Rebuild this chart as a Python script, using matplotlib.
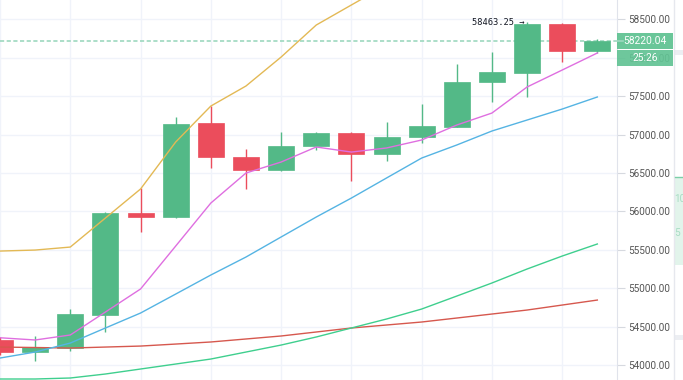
import matplotlib
matplotlib.use("Agg")
import matplotlib.pyplot as plt
from matplotlib.patches import Rectangle
from matplotlib.ticker import FormatStrFormatter

# candle data (one candle per index)
opens = [54325, 54169, 54221, 54651, 55979, 55927, 57151, 56708, 56539,
         56852, 57021, 56747, 56969, 57099, 57685, 57806, 58440, 58089]
highs = [54360, 54378, 54729, 55992, 56305, 57229, 57372, 56812, 57034,
         57040, 57034, 57164, 57398, 57919, 58076, 58463.25, 58457, 58245]
lows = [54130, 54052, 54182, 54430, 55732, 55915, 56565, 56292, 56526,
        56800, 56400, 56656, 56891, 57099, 57424, 57490, 57945, 58058]
closes = [54169, 54234, 54664, 55979, 55927, 57138, 56708, 56539, 56852,
          57021, 56747, 56969, 57112, 57685, 57815, 58440, 58089, 58220.04]

# moving average lines
ma_magenta = [54355, 54326, 54391, 54690, 54990, 55549, 56109, 56500, 56643,
              56839, 56773, 56826, 56930, 57125, 57281, 57620, 57841, 58063]
ma_blue = [54091, 54169, 54286, 54482, 54677, 54924, 55172, 55406, 55667,
           55927, 56174, 56435, 56695, 56865, 57047, 57190, 57333, 57490]
ma_gold = [55484, 55497, 55536, 55914, 56292, 56904, 57372, 57633, 58010,
           58427, 58688, 58948, 59150, 59330, 59500, 59660, 59800, 59930]
ma_red = [54234, 54228, 54221, 54234, 54247, 54273, 54300, 54339, 54378,
          54430, 54482, 54521, 54560, 54612, 54664, 54716, 54781, 54846]
ma_green = [53818, 53818, 53831, 53883, 53948, 54013, 54078, 54169, 54260,
            54365, 54482, 54599, 54729, 54898, 55068, 55250, 55419, 55576]

y_ticks = [54000, 54500, 55000, 55500, 56000, 56500, 57000, 57500, 58000, 58500]
last_price = 58220.04
peak_price = 58463.25
peak_label = "58463.25 \u2192"
countdown = "25:26"
side_labels = ["10", "5"]

UP = "#53b987"
DOWN = "#eb4d5c"
GRID = "#f0f3fa"

W, H = 683, 380
fig = plt.figure(figsize=(W / 100, H / 100), dpi=100)
ax = fig.add_axes([0, 0, 617 / W, 1])
ax.set_xlim(0.03, 17.56)
ax.set_ylim(53805, 58753)

ax.set_yticks(y_ticks)
ax.set_xticks(range(0, 18, 2))
ax.grid(color=GRID, lw=1)
ax.set_axisbelow(True)
ax.yaxis.tick_right()
ax.yaxis.set_major_formatter(FormatStrFormatter("%.2f"))
ax.tick_params(axis="x", length=0, labelbottom=False)
ax.tick_params(axis="y", length=6, color="#d6d9df", labelsize=7.2,
               labelcolor="#555555", pad=2)
for lab in ax.get_yticklabels():
    lab.set_fontfamily("Roboto")
for s in ["top", "left", "bottom"]:
    ax.spines[s].set_visible(False)
ax.spines["right"].set_color("#e0e3eb")

# candles
for i in range(len(opens)):
    o, h, l, c = opens[i], highs[i], lows[i], closes[i]
    col = UP if c >= o else DOWN
    ax.vlines(i, l, h, color=col, lw=1, zorder=2)
    ax.bar(i, abs(c - o), bottom=min(o, c), width=0.74, color=col,
           edgecolor=col, lw=0.5, zorder=3)

# moving averages
x = range(len(opens))
ax.plot(x, ma_red, color="#d6584e", lw=1, zorder=4)
ax.plot(x, ma_green, color="#3fcf8e", lw=1, zorder=4)
ax.plot(x, ma_blue, color="#55b4e3", lw=1, zorder=4)
ax.plot(x, ma_gold, color="#e3b955", lw=1, zorder=4)
ax.plot(x, ma_magenta, color="#df6fe0", lw=1, zorder=4)

# last price line
ax.axhline(last_price, color="#9dd8bf", lw=1.2, ls=(0, (2.5, 1.5)), zorder=1)

# high marker
ax.text(15 - 0.06, peak_price, peak_label, ha="right", va="center",
        fontfamily="DejaVu Sans Mono", fontsize=6.3, color="#131722", zorder=5)

# right side overlays (price box, countdown, cut panel)
ax2 = fig.add_axes([617 / W, 0, 66 / W, 1])
ax2.set_xlim(0, 66)
ax2.set_ylim(ax.get_ylim())
ax2.axis("off")
ytop = ax.get_ylim()[1]
upp = (ax.get_ylim()[1] - ax.get_ylim()[0]) / H  # price units per pixel

ax2.plot([0, 6], [last_price, last_price], color="#9dd8bf", lw=1.2)
ax2.add_patch(Rectangle((0, last_price - 8 * upp), 56, 16 * upp,
                        fc="#62c394", ec="none", alpha=0.95))
ax2.text(28, last_price, f"{last_price:.2f}", ha="center", va="center",
         color="white", fontsize=7.4, fontfamily="Roboto")
ax2.add_patch(Rectangle((0, last_price - 25 * upp), 56, 16 * upp,
                        fc="#62c394", ec="none", alpha=0.92))
ax2.text(28, last_price - 17 * upp, countdown, ha="center", va="center",
         color="white", fontsize=7.4, fontfamily="Roboto")

ax2.axvline(57, color="#e6e8ee", lw=1)
ax2.add_patch(Rectangle((57, ytop - 55 * upp), 9, 5 * upp, fc="#eceef2", ec="none"))
ax2.add_patch(Rectangle((57, ytop - 340 * upp), 9, 5 * upp, fc="#eceef2", ec="none"))
ax2.add_patch(Rectangle((57.5, ytop - 265 * upp), 9, 88 * upp, fc="#e2f4eb", ec="none"))
ax2.plot([58, 66], [ytop - 177 * upp] * 2, color="#7ccfa8", lw=1)
ax2.text(57.5, ytop - 199 * upp, side_labels[0], ha="left", va="center",
         color="#a8dcc4", fontsize=7.2, fontfamily="Roboto")
ax2.text(57.5, ytop - 233 * upp, side_labels[1], ha="left", va="center",
         color="#a8dcc4", fontsize=7.2, fontfamily="Roboto")

fig.savefig("out.png", dpi=100)
